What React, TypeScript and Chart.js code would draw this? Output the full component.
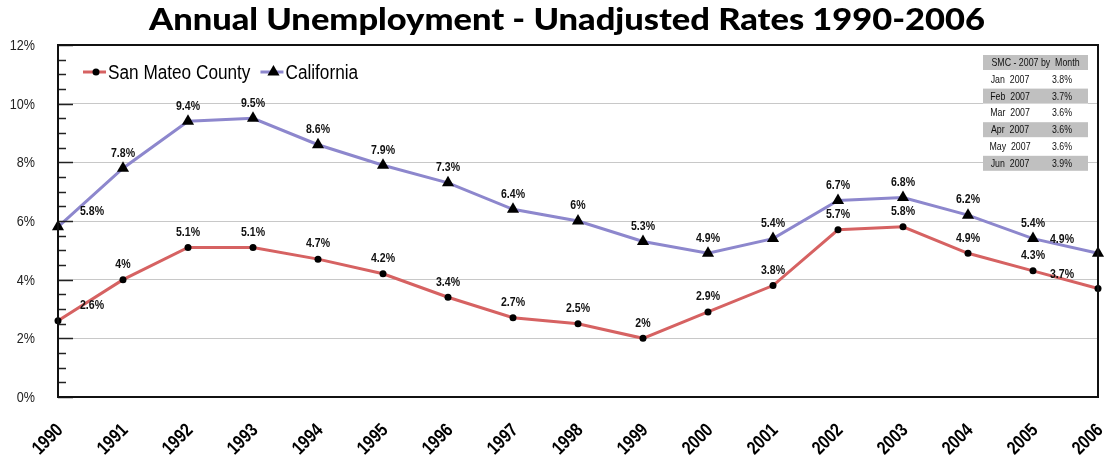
import React, { useEffect, useRef } from 'react';
import { Chart, registerables } from 'chart.js';

Chart.register(...registerables);

const TITLE = 'Annual Unemployment - Unadjusted Rates 1990-2006';
const YEARS = ['1990', '1991', '1992', '1993', '1994', '1995', '1996', '1997', '1998', '1999', '2000', '2001', '2002', '2003', '2004', '2005', '2006'];
const SAN_MATEO = [2.6, 4.0, 5.1, 5.1, 4.7, 4.2, 3.4, 2.7, 2.5, 2.0, 2.9, 3.8, 5.7, 5.8, 4.9, 4.3, 3.7];
const CALIFORNIA = [5.8, 7.8, 9.4, 9.5, 8.6, 7.9, 7.3, 6.4, 6.0, 5.3, 4.9, 5.4, 6.7, 6.8, 6.2, 5.4, 4.9];
const SERIES_NAMES = ['San Mateo County', 'California'];
const TABLE_TITLE = 'SMC - 2007 by  Month';
const MONTHS = ['Jan  2007', 'Feb  2007', 'Mar  2007', 'Apr  2007', 'May  2007', 'Jun  2007'];
const MONTH_RATES = [3.8, 3.7, 3.6, 3.6, 3.6, 3.9];

const SANS = "'Liberation Sans', Arial, sans-serif";
const RED = '#d66262';
const PURPLE = '#8d87cd';
const fmt = (v: number) => `${v}%`;

function narrowText(ctx: CanvasRenderingContext2D, text: string, x: number, y: number, sq = 0.82) {
  ctx.save();
  ctx.translate(x, y);
  ctx.scale(sq, 1);
  ctx.fillText(text, 0, 0);
  ctx.restore();
}

const decorPlugin = {
  id: 'decor',
  afterDraw(chart: any) {
    const { ctx, chartArea: a, scales } = chart;
    const ys = scales.y;
    const xs = scales.x;
    ctx.save();

    // inner ticks on y axis
    ctx.strokeStyle = '#222';
    ctx.lineWidth = 1.5;
    for (let v = 0; v <= 12; v += 0.5) {
      const py = Math.round(ys.getPixelForValue(v)) + 0.5;
      const len = v % 2 === 0 ? 15 : 8;
      ctx.beginPath();
      ctx.moveTo(a.left, py);
      ctx.lineTo(a.left + len, py);
      ctx.stroke();
    }

    // frame
    ctx.lineWidth = 2;
    ctx.strokeStyle = '#111';
    ctx.strokeRect(a.left, a.top, a.right - a.left, a.bottom - a.top);

    // y tick labels
    ctx.fillStyle = '#222';
    ctx.font = `15px ${SANS}`;
    ctx.textAlign = 'right';
    ctx.textBaseline = 'middle';
    ys.ticks.forEach((t: any) => {
      narrowText(ctx, `${t.value}%`, a.left - 23, ys.getPixelForValue(t.value) + 1, 0.84);
    });

    // x tick labels (rotated)
    ctx.fillStyle = '#000';
    ctx.font = `bold 19px ${SANS}`;
    ctx.textAlign = 'right';
    ctx.textBaseline = 'alphabetic';
    chart.data.labels.forEach((lab: string, i: number) => {
      const px = xs.getPixelForTick(i);
      ctx.save();
      ctx.translate(px + 6, a.bottom + 34);
      ctx.rotate(-Math.PI / 4);
      ctx.scale(0.82, 1);
      ctx.fillText(lab, 0, 0);
      ctx.restore();
    });

    // title (stretched horizontally to the reference width)
    ctx.fillStyle = '#000';
    ctx.font = "900 30px Lato, 'Open Sans', sans-serif";
    ctx.textAlign = 'left';
    ctx.textBaseline = 'alphabetic';
    const tw0 = ctx.measureText(TITLE).width;
    const targetW = 836;
    ctx.save();
    ctx.translate(149, 30);
    ctx.scale(targetW / tw0, 1);
    ctx.fillText(TITLE, 0, 0);
    ctx.restore();

    // legend
    const ly = 72;
    let lx = 83;
    const lsq = 0.86;
    ctx.font = `20px ${SANS}`;
    ctx.textAlign = 'left';
    ctx.textBaseline = 'middle';
    const colors = [RED, PURPLE];
    SERIES_NAMES.forEach((name, i) => {
      ctx.strokeStyle = colors[i];
      ctx.lineWidth = 3;
      ctx.beginPath();
      ctx.moveTo(lx, ly);
      ctx.lineTo(lx + 23, ly);
      ctx.stroke();
      ctx.fillStyle = '#000';
      const cx = lx + 13;
      ctx.beginPath();
      if (i === 0) {
        ctx.arc(cx, ly, 3.5, 0, Math.PI * 2);
      } else {
        const r = 7;
        ctx.moveTo(cx, ly - r);
        ctx.lineTo(cx + r * 0.866, ly + r / 2);
        ctx.lineTo(cx - r * 0.866, ly + r / 2);
        ctx.closePath();
      }
      ctx.fill();
      narrowText(ctx, name, lx + 25, ly + 1, lsq);
      lx += 25 + ctx.measureText(name).width * lsq + 10;
    });

    // monthly table
    const tx = 983;
    const tw = 105;
    const rowH = 16.8;
    const ty = 62.5;
    const rows = [TABLE_TITLE, ...MONTHS];
    ctx.fillStyle = '#fff';
    ctx.fillRect(tx, ty - 8, tw, rowH * rows.length);
    ctx.font = `11px ${SANS}`;
    ctx.textAlign = 'center';
    rows.forEach((r, i) => {
      const cy = ty + i * rowH;
      if (i % 2 === 0) {
        ctx.fillStyle = '#c0c0c0';
        ctx.fillRect(tx, cy - 7.5, tw, 15);
      }
      ctx.fillStyle = '#111';
      if (i === 0) {
        narrowText(ctx, r, tx + tw / 2, cy + 0.5, 0.8);
      } else {
        narrowText(ctx, r, 1010, cy + 0.5, 0.8);
        narrowText(ctx, fmt(MONTH_RATES[i - 1]), 1062, cy + 0.5, 0.8);
      }
    });

    // data labels
    ctx.font = `bold 12px ${SANS}`;
    ctx.fillStyle = '#111';
    ctx.textAlign = 'center';
    chart.data.datasets.forEach((ds: any, di: number) => {
      const meta = chart.getDatasetMeta(di);
      meta.data.forEach((pt: any, j: number) => {
        let dx = 0;
        let dy = -15;
        if (j === 0) { dx = 34; dy = -15; }
        if (j === meta.data.length - 1) { dx = -36; dy = -14; }
        narrowText(ctx, fmt(ds.data[j]), pt.x + dx, pt.y + dy, 0.88);
      });
    });

    ctx.restore();
  },
};

export default function App() {
  const ref = useRef<HTMLCanvasElement | null>(null);
  useEffect(() => {
    if (!ref.current) return;
    const chart = new Chart(ref.current, {
      type: 'line',
      data: {
        labels: YEARS,
        datasets: [
          {
            label: SERIES_NAMES[0],
            data: SAN_MATEO,
            borderColor: RED,
            borderWidth: 3,
            pointStyle: 'circle',
            pointRadius: 3.5,
            pointBackgroundColor: '#000',
            pointBorderColor: '#000',
            pointBorderWidth: 0,
            tension: 0,
          },
          {
            label: SERIES_NAMES[1],
            data: CALIFORNIA,
            borderColor: PURPLE,
            borderWidth: 3,
            pointStyle: 'triangle',
            pointRadius: 7,
            pointBackgroundColor: '#000',
            pointBorderColor: '#000',
            pointBorderWidth: 0,
            tension: 0,
          },
        ],
      },
      options: {
        animation: false,
        responsive: false,
        devicePixelRatio: 1,
        layout: { padding: { top: 45, right: 18, bottom: 0, left: 0 } },
        plugins: { legend: { display: false }, title: { display: false }, tooltip: { enabled: false } },
        scales: {
          x: {
            offset: false,
            grid: { display: false, drawTicks: false },
            border: { display: false },
            afterFit: (s: any) => { s.height = 62; s.paddingLeft = 0; s.paddingRight = 0; },
            ticks: { display: false },
          },
          y: {
            min: 0,
            max: 12,
            afterFit: (s: any) => { s.width = 58; },
            grid: { color: '#c8c8c8', lineWidth: 1, drawTicks: false },
            border: { display: false },
            ticks: { stepSize: 2, display: false },
          },
        },
      },
      plugins: [decorPlugin],
    });
    return () => chart.destroy();
  }, []);
  return (
    <div style={{ position: 'fixed', left: 0, top: 0, width: 1116, height: 459, background: '#fff' }}>
      <canvas ref={ref} width={1116} height={459} />
    </div>
  );
}
